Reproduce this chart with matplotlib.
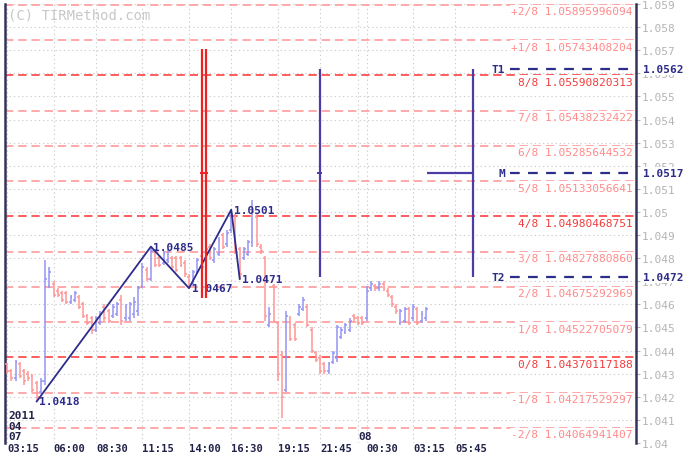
"""EUR/USD-style 15 min bar chart with Murrey math levels and TIR targets."""
import matplotlib
matplotlib.use("Agg")
import matplotlib.pyplot as plt
import numpy as np

# 15-minute bars, index 0 = 2011-04-07 03:15
OPENS = [1.0434, 1.0431, 1.0428, 1.0434, 1.0431, 1.0430, 1.0429, 1.0426, 1.0422, 1.0427,
         1.0468, 1.0469, 1.0466, 1.0465, 1.0465, 1.0461, 1.0462, 1.0463, 1.0460, 1.0455,
         1.0454, 1.0449, 1.0452, 1.0459, 1.0457, 1.0455, 1.0456, 1.0462, 1.0454, 1.0454,
         1.0456, 1.0457, 1.0468, 1.0475, 1.0471, 1.0483, 1.0480, 1.0478, 1.0479, 1.0480,
         1.0480, 1.0480, 1.0478, 1.0472, 1.0469, 1.0474, 1.0481, 1.0479, 1.0485, 1.0479,
         1.0482, 1.0490, 1.0486, 1.0492, 1.0498, 1.0484, 1.0480, 1.0482, 1.0487, 1.0498,
         1.0485, 1.0480, 1.0451, 1.0468, 1.0452, 1.0438, 1.0423, 1.0454, 1.0451, 1.0456,
         1.0458, 1.0459, 1.0449, 1.0439, 1.0437, 1.0434, 1.0431, 1.0435, 1.0437, 1.0446,
         1.0448, 1.0449, 1.0455, 1.0454, 1.0454, 1.0454, 1.0467, 1.0468, 1.0467, 1.0469,
         1.0466, 1.0463, 1.0459, 1.0452, 1.0453, 1.0458, 1.0454, 1.0458, 1.0453, 1.0454]
HIGHS = [1.04345, 1.0432, 1.0436, 1.0435, 1.0432, 1.0431, 1.0430, 1.0427, 1.0428, 1.0479,
         1.0476, 1.0470, 1.0467, 1.0466, 1.0466, 1.0464, 1.0466, 1.0464, 1.0461, 1.0456,
         1.0455, 1.0455, 1.0457, 1.0460, 1.0458, 1.0460, 1.0461, 1.0464, 1.0460, 1.0461,
         1.0463, 1.0468, 1.0478, 1.0476, 1.0485, 1.0484, 1.0481, 1.0483, 1.0484, 1.0481,
         1.0481, 1.0481, 1.0479, 1.0473, 1.0475, 1.0480, 1.0482, 1.0485, 1.0486, 1.0485,
         1.0489, 1.0491, 1.0492, 1.0501, 1.0499, 1.0485, 1.0485, 1.0488, 1.0505, 1.0499,
         1.0486, 1.0481, 1.0459, 1.0469, 1.0453, 1.0440, 1.0457, 1.0455, 1.0452, 1.0460,
         1.0463, 1.0460, 1.0450, 1.0440, 1.0438, 1.0435, 1.0435, 1.0440, 1.0451, 1.0450,
         1.0452, 1.0454, 1.0456, 1.0455, 1.0455, 1.0468, 1.0470, 1.0469, 1.0470, 1.0470,
         1.0467, 1.0464, 1.0460, 1.0458, 1.0459, 1.0459, 1.0460, 1.0459, 1.0457, 1.0459]
LOWS = [1.0430, 1.0427, 1.0427, 1.0428, 1.0425, 1.0427, 1.0422, 1.0418, 1.0421, 1.0425,
        1.0467, 1.0463, 1.0463, 1.0461, 1.0460, 1.0460, 1.0461, 1.0458, 1.0454, 1.0451,
        1.0447, 1.0448, 1.0451, 1.0453, 1.0452, 1.0454, 1.0455, 1.0451, 1.0453, 1.0453,
        1.0454, 1.0455, 1.0467, 1.0470, 1.0470, 1.0476, 1.0476, 1.0477, 1.0478, 1.0475,
        1.0474, 1.0476, 1.0472, 1.0467, 1.0468, 1.0473, 1.0475, 1.0478, 1.0479, 1.0478,
        1.0481, 1.0484, 1.0485, 1.0491, 1.0482, 1.0471, 1.0479, 1.0481, 1.0485, 1.0485,
        1.0482, 1.0453, 1.0450, 1.0452, 1.0427, 1.0411, 1.0422, 1.0444, 1.0444, 1.0455,
        1.0457, 1.0450, 1.0439, 1.0435, 1.0430, 1.0430, 1.0430, 1.0434, 1.0435, 1.0445,
        1.0447, 1.0448, 1.0453, 1.0451, 1.0451, 1.0453, 1.0466, 1.0466, 1.0466, 1.0466,
        1.0463, 1.0459, 1.0456, 1.0451, 1.0452, 1.0451, 1.0453, 1.0451, 1.0452, 1.0453]
CLOSES = [1.0431, 1.0428, 1.0435, 1.0429, 1.0427, 1.0428, 1.0423, 1.0420, 1.0427, 1.0471,
          1.0474, 1.0464, 1.0464, 1.0462, 1.0461, 1.0463, 1.0465, 1.0459, 1.0455, 1.0452,
          1.0449, 1.0454, 1.0456, 1.0454, 1.0453, 1.0459, 1.0460, 1.0453, 1.0459, 1.0460,
          1.0461, 1.0467, 1.0476, 1.0471, 1.0483, 1.0477, 1.0477, 1.0482, 1.0483, 1.0476,
          1.0475, 1.0477, 1.0473, 1.0468, 1.0474, 1.0479, 1.0476, 1.0484, 1.0480, 1.0484,
          1.0488, 1.0485, 1.0491, 1.0499, 1.0483, 1.0473, 1.0484, 1.0487, 1.0500, 1.0486,
          1.0483, 1.0455, 1.0456, 1.0453, 1.0430, 1.0420, 1.0455, 1.0445, 1.0445, 1.0459,
          1.0462, 1.0451, 1.0440, 1.0436, 1.0431, 1.0431, 1.0434, 1.0439, 1.0450, 1.0449,
          1.0451, 1.0453, 1.0454, 1.0452, 1.0452, 1.0466, 1.0469, 1.0467, 1.0469, 1.0467,
          1.0464, 1.0460, 1.0457, 1.0457, 1.0458, 1.0452, 1.0459, 1.0452, 1.0456, 1.0458]

# zigzag swing points (bar index, price)
ZIGZAG_IDX = [7, 34, 43, 53, 55]
ZIGZAG_PRICE = [1.0418, 1.0485, 1.0467, 1.0501, 1.0471]

MURREY_NAMES = ["+2/8", "+1/8", "8/8", "7/8", "6/8", "5/8", "4/8",
                "3/8", "2/8", "1/8", "0/8", "-1/8", "-2/8"]
MURREY_VALUES = ["1.05895996094", "1.05743408204", "1.05590820313", "1.05438232422",
                 "1.05285644532", "1.05133056641", "1.04980468751", "1.04827880860",
                 "1.04675292969", "1.04522705079", "1.04370117188", "1.04217529297",
                 "1.04064941407"]
MURREY_MAJOR = ["8/8", "4/8", "0/8"]

TARGET_NAMES = ["T1", "M", "T2"]
TARGET_PRICES = [1.0562, 1.0517, 1.0472]

# red projection bars and the two TIR range markers
RED_IDX = [46.0, 47.1]
RED_LOW, RED_HIGH, RED_MID = 1.04626, 1.05705, 1.0517
RANGE_IDX = [73.9, 110.2]
MID_FROM_IDX = 99.3

TIME_TICK_IDX = [0, 11, 21, 32, 43, 53, 64, 74, 85, 96, 106]
TIME_TICK_LABELS = ["03:15", "06:00", "08:30", "11:15", "14:00", "16:30",
                    "19:15", "21:45", "00:30", "03:15", "05:45"]
DAY_BREAK_IDX = 83
DAY_BREAK_LABEL = "08"
START_DATE = ["2011", "04", "07"]

PRICE_TICKS = [1.040, 1.041, 1.042, 1.043, 1.044, 1.045, 1.046, 1.047, 1.048, 1.049,
               1.050, 1.051, 1.052, 1.053, 1.054, 1.055, 1.056, 1.057, 1.058, 1.059]
PRICE_TICK_LABELS = ["1.04", "1.041", "1.042", "1.043", "1.044", "1.045", "1.046",
                     "1.047", "1.048", "1.049", "1.05", "1.051", "1.052", "1.053",
                     "1.054", "1.055", "1.056", "1.057", "1.058", "1.059"]

NAVY = "#2c2c8a"
AXIS = "#34345a"
UP = "#9494f4"
DOWN = "#ff9696"
MONO = "DejaVu Sans Mono"
FS = 8.0


def draw_bars(ax):
    o, h, l, c = (np.asarray(a) for a in (OPENS, HIGHS, LOWS, CLOSES))
    idx = np.arange(len(o))
    up = c >= o
    for mask, color in ((up, UP), (~up, DOWN)):
        ax.vlines(idx[mask], l[mask], h[mask], color=color, lw=1.1, zorder=3)
        ax.hlines(o[mask], idx[mask] - 0.45, idx[mask], color=color, lw=1.1, zorder=3)
        ax.hlines(c[mask], idx[mask], idx[mask] + 0.45, color=color, lw=1.1, zorder=3)


def draw_murrey(ax):
    ytf = ax.get_yaxis_transform()
    for name, txt in zip(MURREY_NAMES, MURREY_VALUES):
        lvl = float(txt)
        major = name in MURREY_MAJOR
        ax.axhline(lvl, color="#ff5050" if major else "#ffa3a3", lw=1.3,
                   dashes=(6, 3.5), zorder=2)
        ax.text(0.995, lvl - 0.00006, f"{name} {txt}", transform=ytf, ha="right",
                va="top", family=MONO, fontsize=FS,
                color="#f03c3c" if major else "#ff8a8a", zorder=4,
                bbox=dict(boxstyle="square,pad=0.12", fc="white", ec="none"))


def draw_targets(ax):
    ytf = ax.get_yaxis_transform()
    # red projection pair
    for x in RED_IDX:
        ax.vlines(x, RED_LOW, RED_HIGH, color="#ee2222", lw=1.6, zorder=6)
    ax.hlines(RED_MID, RED_IDX[0] - 0.5, RED_IDX[1] + 0.5, color="#ee2222", lw=1.4, zorder=6)

    lo, mid, hi = TARGET_PRICES[2], TARGET_PRICES[1], TARGET_PRICES[0]
    for x in RANGE_IDX:
        ax.vlines(x, lo, hi, color="#4a3ea6", lw=1.6, zorder=6)
    ax.hlines(mid, RANGE_IDX[0] - 0.6, RANGE_IDX[0] + 0.6, color="#4a3ea6", lw=1.4, zorder=6)
    ax.hlines(mid, MID_FROM_IDX, RANGE_IDX[1], color="#4a3ea6", lw=1.6, zorder=6)

    for name, p in zip(TARGET_NAMES, TARGET_PRICES):
        ax.plot([119, 148.4], [p, p], color=NAVY, lw=1.6, dashes=(7, 6), zorder=5)
        ax.text(117.8, p, name, ha="right", va="center", family=MONO, fontsize=FS,
                fontweight="bold", color=NAVY, zorder=6)
        ax.text(1.011, p, f"{p:.4f}", transform=ytf, ha="left", va="center",
                family=MONO, fontsize=FS, fontweight="bold", color=NAVY,
                bbox=dict(boxstyle="square,pad=0.1", fc="white", ec="none"),
                clip_on=False, zorder=7)


def main():
    plt.rcParams["lines.scale_dashes"] = False
    fig = plt.figure(figsize=(6.84, 4.56), dpi=100)
    ax = fig.add_axes([5 / 684, 12 / 456, 631 / 684, 439 / 456])
    ax.set_xlim(-0.5, 148.7)
    ax.set_ylim(1.040, 1.059)

    # grid
    for x in TIME_TICK_IDX + [DAY_BREAK_IDX]:
        ax.axvline(x, color="#cfcfcf", lw=0.8, ls=(0, (1, 2)), zorder=1)
    for y in PRICE_TICKS:
        ax.axhline(y, color="#cfcfcf", lw=0.8, ls=(0, (1, 2)), zorder=1)

    draw_murrey(ax)
    draw_bars(ax)

    ax.plot(ZIGZAG_IDX, ZIGZAG_PRICE, color=NAVY, lw=1.3, zorder=5)
    for x, p in zip(ZIGZAG_IDX, ZIGZAG_PRICE):
        ax.text(x + 0.6, p, f"{p:.4f}", ha="left", va="center", family=MONO,
                fontsize=FS, fontweight="bold", color=NAVY, zorder=6)

    draw_targets(ax)

    # axes styling
    for side in ("top", "bottom"):
        ax.spines[side].set_visible(False)
    for side in ("left", "right"):
        ax.spines[side].set_color(AXIS)
        ax.spines[side].set_linewidth(1.8)
    ax.yaxis.tick_right()
    ax.set_yticks(PRICE_TICKS)
    ax.set_yticklabels(PRICE_TICK_LABELS, family=MONO, fontsize=FS, color="#b4b4b4")
    ax.tick_params(axis="y", length=3, width=0.8, color="#b4b4b4", pad=1)
    ax.set_xticks(TIME_TICK_IDX)
    ax.set_xticklabels(TIME_TICK_LABELS, family=MONO, fontsize=7.6,
                       fontweight="bold", color="#22224a", ha="left")
    ax.tick_params(axis="x", length=0, pad=0)

    xtf = ax.get_xaxis_transform()
    for k, s in enumerate(START_DATE):
        ax.text(0.3, 0.064 - k * 0.0245, s, transform=xtf, ha="left", va="center",
                family=MONO, fontsize=FS, fontweight="bold", color="#22224a")
    ax.text(DAY_BREAK_IDX, 0.015, DAY_BREAK_LABEL, transform=xtf, ha="left",
            va="center", family=MONO, fontsize=FS, fontweight="bold", color="#22224a")

    ax.text(0.005, 0.977, "(C) TIRMethod.com", transform=ax.transAxes, ha="left",
            va="center", family=MONO, fontsize=10, color="#c8c8c8")

    fig.savefig("out.png", dpi=100)


if __name__ == "__main__":
    main()
